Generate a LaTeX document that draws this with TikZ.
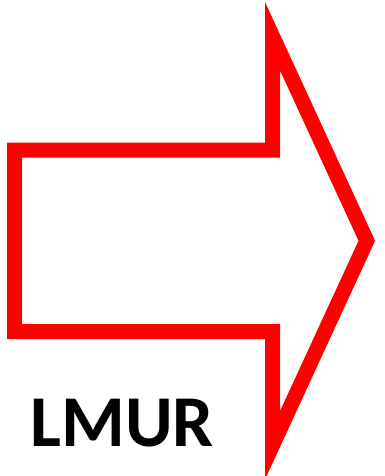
\documentclass[tikz,border=0pt]{standalone}
\usepackage{fontspec}
\setmainfont{Carlito}
\begin{document}
\begin{tikzpicture}[x=1pt,y=-1pt,
  arrowline/.style={draw=red, line width=15pt, line join=miter, miter limit=10},
  lbl/.style={font=\fontsize{73}{88}\selectfont\bfseries, inner sep=0pt, anchor=base}]
\useasboundingbox (0,0) rectangle (385,476);
\coordinate (a1) at (14.5,150);
\coordinate (a2) at (272.5,150);
\coordinate (a3) at (272.5,36.2);
\coordinate (a4) at (366.8,240.75);
\coordinate (a5) at (272.5,445.3);
\coordinate (a6) at (272.5,331.5);
\coordinate (a7) at (14.5,331.5);
\draw[arrowline] (a1) -- (a2) -- (a3) -- (a4) -- (a5) -- (a6) -- (a7) -- cycle;
\node[lbl] (t) at (122.2,446.7) {LMUR};
\end{tikzpicture}
\end{document}
